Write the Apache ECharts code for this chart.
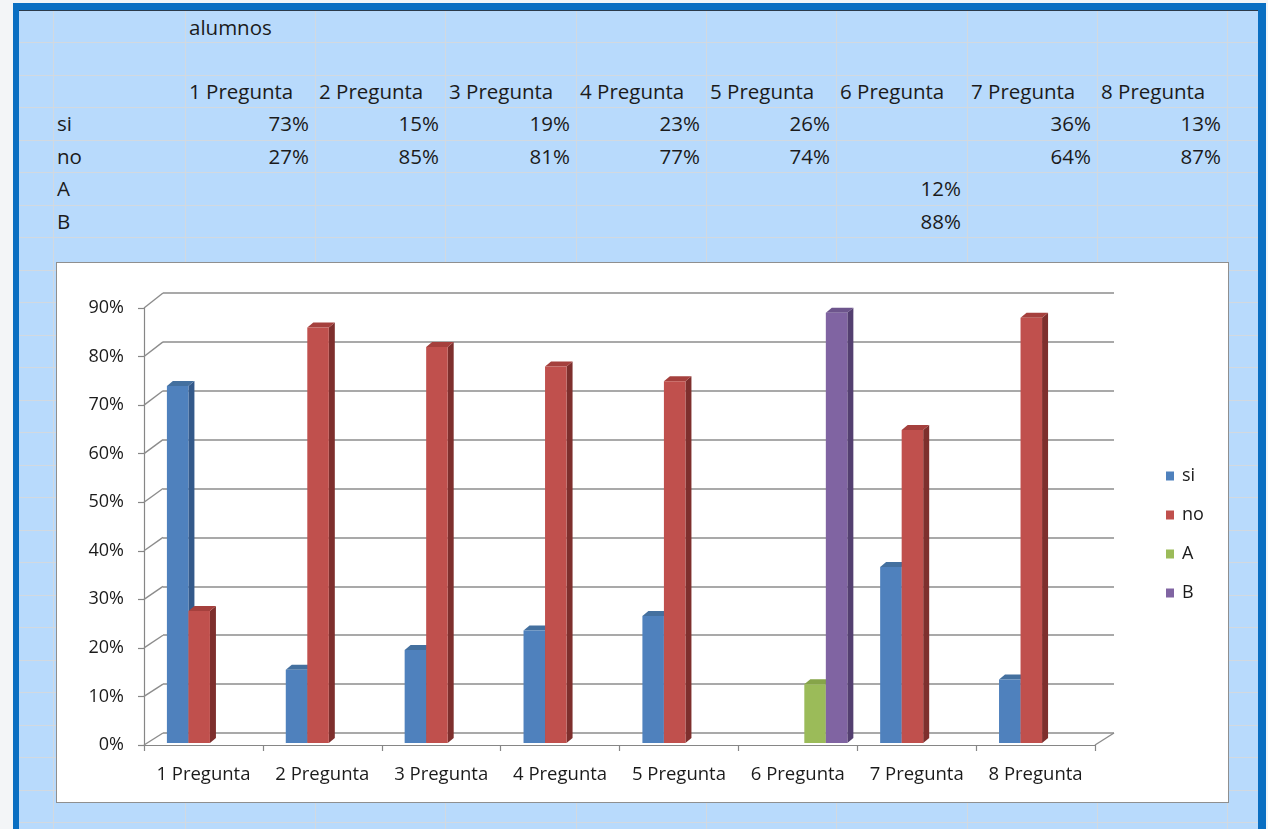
<!DOCTYPE html>
<html><head><meta charset="utf-8">
<script src="https://cdn.jsdelivr.net/npm/echarts/dist/echarts.min.js"></script>
<style>
html,body{margin:0;padding:0;}
body{width:1268px;height:829px;overflow:hidden;background:#f3f5f7;position:relative;font-family:"Open Sans",Lato,sans-serif;}
#frame{position:absolute;left:13px;top:3px;width:1253px;height:840px;background:#0a6fc2;}
#sheet{position:absolute;left:19px;top:10px;width:1239px;height:830px;background:#b8dafc;border-top:1px solid #2b3a4a;box-sizing:border-box;overflow:hidden;}
.vl{position:absolute;top:0;width:1px;height:830px;background:#d2d9e0;}
.hl{position:absolute;left:0;height:1px;width:1239px;background:#d2d9e0;}
.cell{position:absolute;height:32px;line-height:32px;font-size:20.5px;color:#1b1b1b;white-space:nowrap;}
#chartbox{position:absolute;left:56px;top:262px;width:1171px;height:539px;background:#fff;border:1px solid #8f8f8f;}
#chart{width:1171px;height:539px;}
</style></head>
<body>
<div id="frame"></div>
<div id="sheet"></div>
<div id="chartbox"><div id="chart"></div></div>
<script>
// ---- data ----
const tableTitle = 'alumnos';
const categories = ['1 Pregunta','2 Pregunta','3 Pregunta','4 Pregunta','5 Pregunta','6 Pregunta','7 Pregunta','8 Pregunta'];
const seriesNames = ['si','no','A','B'];
const siValues = [0.73,0.15,0.19,0.23,0.26,null,0.36,0.13];
const noValues = [0.27,0.85,0.81,0.77,0.74,null,0.64,0.87];
const aValues  = [null,null,null,null,null,0.12,null,null];
const bValues  = [null,null,null,null,null,0.88,null,null];
const yTickValues = [0,0.1,0.2,0.3,0.4,0.5,0.6,0.7,0.8,0.9];

// ---- spreadsheet background ----
const sheet = document.getElementById('sheet');
const SX = 19, SY = 10;
const colX = [53,185,315,445,576,706,836,967,1097,1227];
colX.forEach(x=>{const d=document.createElement('div');d.className='vl';d.style.left=(x-SX)+'px';sheet.appendChild(d);});
const rowY = [];
for(let y=41;y<840;y+=32.5) rowY.push(y);
rowY.forEach(y=>{const d=document.createElement('div');d.className='hl';d.style.top=Math.round(y-SY)+'px';sheet.appendChild(d);});
const rowTop = [10,41,73.5,106,138.5,171,203.5];
function cell(text,col,row,align){
  const d=document.createElement('div');d.className='cell';d.textContent=text;
  d.style.top=(rowTop[row]-SY)+'px';
  if(align==='right'){d.style.left=(colX[col]-SX)+'px';d.style.width=(colX[col+1]-colX[col]-6)+'px';d.style.textAlign='right';}
  else{d.style.left=(colX[col]-SX+4)+'px';}
  sheet.appendChild(d);
}
const pct = v => Math.round(v*100)+'%';
cell(tableTitle,1,0,'left');
categories.forEach((c,i)=>cell(c,i+1,2,'left'));
const tableRows=[siValues,noValues,aValues,bValues];
tableRows.forEach((vals,r)=>{
  cell(seriesNames[r],0,3+r,'left');
  vals.forEach((v,i)=>{ if(v!=null) cell(pct(v),i+1,3+r,'right'); });
});

// ---- chart ----
const colors = [
  {front:'#4f81bd', side:'#33598a', top:'#44709f'},
  {front:'#c0504d', side:'#7e2f2d', top:'#a5403d'},
  {front:'#9bbb59', side:'#6c853b', top:'#86a449'},
  {front:'#8064a2', side:'#533f70', top:'#6d558c'}
];
const allValues=[siValues,noValues,aValues,bValues];
const DEPTH_X=6, DEPTH_Y=-5;
function makeRender(sIdx){
  return function(params, api){
    const i=api.value(0), v=api.value(1);
    const top=api.coord([i,v]); const base=api.coord([i,0]);
    const band=api.size([1,0])[0];
    const w=band*0.181;
    const x=top[0]+(sIdx-2)*w;
    const yT=top[1], yB=base[1];
    const c=colors[sIdx];
    return {type:'group',children:[
      {type:'polygon',shape:{points:[[x+w,yT],[x+w+DEPTH_X,yT+DEPTH_Y],[x+w+DEPTH_X,yB+DEPTH_Y],[x+w,yB]]},style:{fill:c.side}},
      {type:'polygon',shape:{points:[[x,yT],[x+DEPTH_X,yT+DEPTH_Y],[x+w+DEPTH_X,yT+DEPTH_Y],[x+w,yT]]},style:{fill:c.top}},
      {type:'rect',shape:{x:x,y:yT,width:w,height:yB-yT},style:{fill:c.front}}
    ]};
  };
}
const series = allValues.map((vals,s)=>({
  name:seriesNames[s], type:'custom', xAxisIndex:2, yAxisIndex:2,
  itemStyle:{color:colors[s].front},
  renderItem:makeRender(s),
  encode:{x:0,y:1},
  data:vals.map((v,i)=>v==null?null:[i,v]).filter(d=>d)
}));

const axisGray='#868686';
const FONT='Open Sans';
const chart=echarts.init(document.getElementById('chart'));
chart.setOption({
  animation:false,
  textStyle:{fontFamily:FONT},
  grid:[
    {left:87, top:45, width:951, height:437},
    {left:106, top:30, width:951, height:440},
    {left:93.5, top:40, width:951, height:440}
  ],
  xAxis:[
    {gridIndex:0,type:'category',data:categories,
      axisLine:{lineStyle:{color:axisGray,width:1.2}},
      axisTick:{show:true,interval:0,length:6,lineStyle:{color:axisGray,width:1.2}},
      axisLabel:{interval:0,hideOverlap:false,color:'#1b1b1b',fontSize:18.5,fontFamily:FONT,margin:20}},
    {gridIndex:1,type:'category',data:categories,show:false},
    {gridIndex:2,type:'category',data:categories,show:false}
  ],
  yAxis:[
    {gridIndex:0,type:'value',min:0,max:0.9,interval:0.1,
      axisLine:{show:true,lineStyle:{color:axisGray,width:1.2}},
      axisTick:{show:true,length:6,lineStyle:{color:axisGray,width:1.2}},
      splitLine:{show:false},
      axisLabel:{color:'#1b1b1b',fontSize:18,fontFamily:FONT,margin:20,formatter:v=>Math.round(v*100)+'%'}},
    {gridIndex:1,type:'value',min:0,max:0.9,interval:0.1,
      axisLine:{show:false},axisTick:{show:false},axisLabel:{show:false},
      splitLine:{show:true,lineStyle:{color:'#8c8c8c',width:1.6}}},
    {gridIndex:2,type:'value',min:0,max:0.9,interval:0.1,show:false}
  ],
  legend:{data:seriesNames,orient:'vertical',left:1104,top:199,icon:'rect',itemWidth:8,itemHeight:9,itemGap:21,
    textStyle:{fontSize:18,lineHeight:16,fontFamily:FONT,color:'#1b1b1b',padding:[0,0,0,3]}},
  series:series
});

// 3D wall diagonals (front axis ticks -> back wall gridlines)
const p0=chart.convertToPixel({xAxisIndex:0,yAxisIndex:0},[0,0]);
const p1=chart.convertToPixel({xAxisIndex:0,yAxisIndex:0},[1,0]);
const bandA=p1[0]-p0[0];
const leftA=p0[0]-bandA/2, rightA=leftA+bandA*categories.length;
const q0=chart.convertToPixel({xAxisIndex:1,yAxisIndex:1},[0,0]);
const q1=chart.convertToPixel({xAxisIndex:1,yAxisIndex:1},[1,0]);
const bandB=q1[0]-q0[0];
const leftB=q0[0]-bandB/2, rightB=leftB+bandB*categories.length;
const g=[];
yTickValues.forEach(v=>{
  const ya=chart.convertToPixel({yAxisIndex:0},v);
  const yb=chart.convertToPixel({yAxisIndex:1},v);
  g.push({type:'line',shape:{x1:leftA,y1:ya,x2:leftB,y2:yb},style:{stroke:'#8c8c8c',lineWidth:1.4},z:1});
});
const ya0=chart.convertToPixel({yAxisIndex:0},0), yb0=chart.convertToPixel({yAxisIndex:1},0);
g.push({type:'line',shape:{x1:rightA,y1:ya0,x2:rightB,y2:yb0},style:{stroke:'#8c8c8c',lineWidth:1.4},z:1});
chart.setOption({graphic:g});
</script>
</body></html>
